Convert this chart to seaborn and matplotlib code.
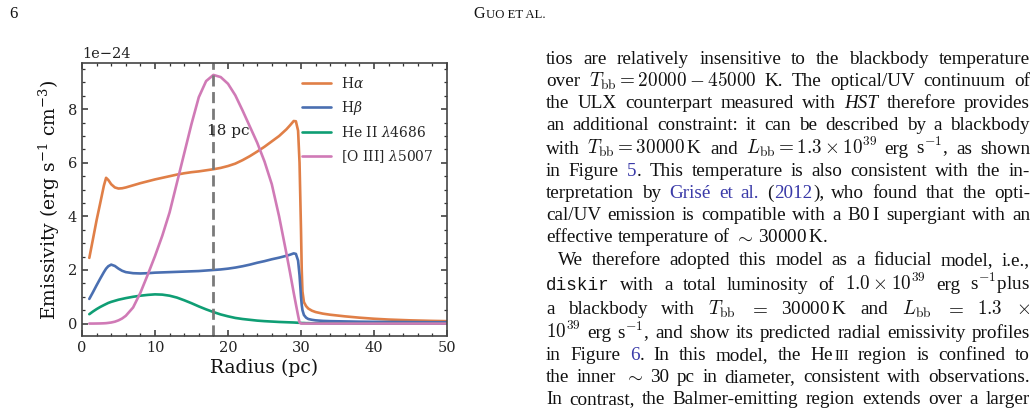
import re
import numpy as np
import matplotlib
matplotlib.use("Agg")
import matplotlib.pyplot as plt
import seaborn as sns
from matplotlib.ticker import MultipleLocator
from matplotlib.transforms import IdentityTransform

# ---------------- data ----------------
radius = [1, 1.5, 2, 2.5, 3, 3.3, 3.6, 4, 4.5, 5,
          5.5, 6, 7, 8, 9, 10, 11, 12, 13, 14,
          15, 16, 17, 18, 19, 20, 21, 22, 23, 24,
          25, 26, 27, 28, 28.5, 29, 29.3, 29.6, 29.8, 30,
          30.1, 30.2, 30.4, 30.7, 31, 31.5, 32, 33, 34, 36,
          38, 40, 42, 45, 48, 50]

h_alpha = [2.45, 3.15, 3.86, 4.5, 5.15, 5.44, 5.36, 5.2, 5.08, 5.04,
           5.05, 5.08, 5.16, 5.24, 5.31, 5.38, 5.44, 5.5, 5.56, 5.61,
           5.65, 5.68, 5.72, 5.76, 5.81, 5.88, 5.97, 6.1, 6.25, 6.42,
           6.6, 6.8, 7.0, 7.25, 7.4, 7.56, 7.55, 7.2, 6.0, 3.5,
           2.0, 1.2, 0.8, 0.65, 0.56, 0.48, 0.43, 0.37, 0.33, 0.27,
           0.22, 0.18, 0.15, 0.12, 0.1, 0.09]

h_beta = [0.92, 1.17, 1.43, 1.68, 1.92, 2.05, 2.14, 2.2, 2.15, 2.05,
          1.97, 1.92, 1.88, 1.87, 1.88, 1.9, 1.91, 1.92, 1.93, 1.94,
          1.95, 1.96, 1.98, 2.0, 2.02, 2.05, 2.09, 2.14, 2.2, 2.27,
          2.33, 2.4, 2.46, 2.53, 2.57, 2.62, 2.6, 2.35, 1.8, 1.0,
          0.7, 0.5, 0.32, 0.22, 0.17, 0.14, 0.12, 0.1, 0.09, 0.08,
          0.07, 0.065, 0.06, 0.055, 0.05, 0.05]

he_ii = [0.35, 0.45, 0.54, 0.62, 0.69, 0.73, 0.77, 0.81, 0.85, 0.89,
         0.92, 0.95, 1.0, 1.04, 1.07, 1.09, 1.08, 1.04, 0.97, 0.87,
         0.76, 0.64, 0.53, 0.43, 0.34, 0.27, 0.21, 0.17, 0.14, 0.11,
         0.09, 0.075, 0.06, 0.05, 0.045, 0.04, 0.035, 0.03, 0.03, 0.025,
         0.02, 0.02, 0.02, 0.015, 0.015, 0.01, 0.01, 0.01, 0.005, 0.005,
         0.0, 0.0, 0.0, 0.0, 0.0, 0.0]

o_iii = [0.0, 0.0, 0.002, 0.005, 0.01, 0.015, 0.025, 0.04, 0.07, 0.12,
         0.19, 0.29, 0.6, 1.15, 1.82, 2.52, 3.28, 4.15, 5.25, 6.35,
         7.45, 8.45, 9.05, 9.28, 9.2, 8.95, 8.52, 7.95, 7.35, 6.75,
         6.05, 5.2, 4.0, 2.62, 1.9, 1.15, 0.72, 0.3, 0.04, 0.0,
         0.0, 0.0, 0.0, 0.0, 0.0, 0.0, 0.0, 0.0, 0.0, 0.0,
         0.0, 0.0, 0.0, 0.0, 0.0, 0.0]

series_values = [h_alpha, h_beta, he_ii, o_iii]
series_labels = [r"H$\alpha$", r"H$\beta$", r"He II $\lambda$4686", r"[O III] $\lambda$5007"]
series_colors = ["#e07f47", "#4a6fb1", "#0f9e74", "#d07ab6"]
unit_scale = 1e-24
marker_radius = 18
marker_label = "18 pc"
x_ticks = [0, 10, 20, 30, 40, 50]
y_ticks = [0, 2, 4, 6, 8]
x_label = "Radius (pc)"
y_label = r"Emissivity (erg s$^{-1}$ cm$^{-3}$)"

# ---------------- style ----------------
sns.set_theme(style="ticks")
plt.rcParams["font.family"] = ["DejaVu Serif"]
plt.rcParams["mathtext.fontset"] = "dejavuserif"
plt.rcParams["axes.linewidth"] = 1.2

W, H = 1036, 409
fig = plt.figure(figsize=(W / 100, H / 100), dpi=100)
ax = fig.add_axes([82 / W, 1 - 336 / H, 365 / W, 273.5 / H])

for vals, lab, col in zip(series_values, series_labels, series_colors):
    sns.lineplot(x=radius, y=np.array(vals) * unit_scale, color=col, label=lab,
                 lw=1.9, ax=ax, sort=False, estimator=None)

ax.axvline(marker_radius, color="#7a7a7a", ls="--", lw=2.0, dashes=(4, 2))
ax.text(marker_radius - 0.9, 7.17 * unit_scale, marker_label, ha="left", va="center",
        fontsize=11, color="#222222")

ax.set_xlim(0, 50)
ax.set_xticks(x_ticks)
ax.set_yticks(np.array(y_ticks) * unit_scale)
ax.xaxis.set_minor_locator(MultipleLocator(2))
ax.yaxis.set_minor_locator(MultipleLocator(0.5 * unit_scale))
ax.tick_params(which="both", direction="in", top=True, right=True,
               colors="#333333", labelcolor="#222222", labelsize=10.5)
ax.tick_params(which="major", length=4.5, width=1.1)
ax.tick_params(which="minor", length=2.5, width=0.9)
for sp in ax.spines.values():
    sp.set_color("#444444")
ax.yaxis.get_offset_text().set_fontsize(10.5)
ax.set_xlabel(x_label, fontsize=13.5, color="#111111", labelpad=3)
ax.set_ylabel(y_label, fontsize=13.5, color="#111111", labelpad=4)

leg = ax.legend(loc="upper right", frameon=False, fontsize=10, labelspacing=0.58,
                handlelength=2.1, handletextpad=0.75, borderaxespad=0.55)

# ---------------- page text ----------------
renderer = fig.canvas.get_renderer()
BODY_FS = 13.8
LEFT, RIGHT = 546, 1030
BLUE = "#3a3aa8"
seg_re = re.compile(r"\{([ibms])\|([^}]*)\}")


def parse_word(word):
    segs, pos = [], 0
    for m in seg_re.finditer(word):
        if m.start() > pos:
            segs.append(("n", word[pos:m.start()]))
        segs.append((m.group(1), m.group(2)))
        pos = m.end()
    if pos < len(word):
        segs.append(("n", word[pos:]))
    return segs


def seg_kwargs(style, fs):
    kw = dict(family="Liberation Serif", color="#111111", fontsize=fs,
              math_fontfamily="cm")
    if style == "i":
        kw["style"] = "italic"
    elif style == "b":
        kw["color"] = BLUE
    elif style == "m":
        kw["family"] = "Liberation Mono"
        kw["fontsize"] = fs * 0.92
    elif style == "s":
        kw["fontsize"] = fs * 0.78
    return kw


def make_word(word, fs):
    arts = []
    for style, txt in parse_word(word):
        t = fig.text(0, 0, txt, transform=IdentityTransform(), va="baseline",
                     ha="left", **seg_kwargs(style, fs))
        w = t.get_window_extent(renderer).width
        arts.append((t, w))
    return arts


def draw_line(text, y_img, left, right, justify, fs=BODY_FS, gap_default=None):
    words = [make_word(w, fs) for w in text.split(" ")]
    widths = [sum(w for _, w in arts) for arts in words]
    if gap_default is None:
        gap_default = fs * 100 / 72 * 0.25
    if justify and len(words) > 1:
        gap = (right - left - sum(widths)) / (len(words) - 1)
    else:
        gap = gap_default
    x = left
    yd = H - y_img
    for arts, wtot in zip(words, widths):
        xx = x
        for t, w in arts:
            t.set_position((xx, yd))
            xx += w + 0.6
        x += wtot + gap


body = [
    (0, True, 64.5, "tios are relatively insensitive to the blackbody temperature"),
    (0, True, 86.5, r"over $T_\mathrm{bb}=20000-45000$ K. The optical/UV continuum of"),
    (0, True, 108.5, "the ULX counterpart measured with {i|HST} therefore provides"),
    (0, True, 130.5, "an additional constraint: it can be described by a blackbody"),
    (0, True, 153.5, r"with $T_\mathrm{bb}=30000\,$K and $L_\mathrm{bb}=1.3\times10^{39}$ erg s$^{-1}$, as shown"),
    (0, True, 176, "in Figure {b|5}. This temperature is also consistent with the in-"),
    (0, True, 198, "terpretation by {b|Grisé} {b|et} {b|al.} ({b|2012}), who found that the opti-"),
    (0, True, 220, r"cal/UV emission is compatible with a B0$\,$I supergiant with an"),
    (0, False, 242.5, r"effective temperature of $\sim$ 30000$\,$K."),
    (12, True, 265, "We therefore adopted this model as a fiducial model, i.e.,"),
    (0, True, 290, r"{m|diskir} with a total luminosity of $1.0\times10^{39}$ erg s$^{-1}$plus"),
    (0, True, 314.5, r"a blackbody with $T_\mathrm{bb}$ $=$ 30000$\,$K and $L_\mathrm{bb}$ $=$ $1.3$ $\times$"),
    (0, True, 338, r"$10^{39}$ erg s$^{-1}$, and show its predicted radial emissivity profiles"),
    (0, True, 360, r"in Figure {b|6}.  In this model, the He$\,${s|III} region is confined to"),
    (0, True, 382, r"the inner $\sim$ 30 pc in diameter, consistent with observations."),
    (0, True, 404, "In contrast, the Balmer-emitting region extends over a larger"),
]
for indent, just, y, txt in body:
    txt = re.sub(" +", " ", txt)
    draw_line(txt, y, LEFT + indent, RIGHT, just)

# header
fig.text(9, H - 18.5, "6", transform=IdentityTransform(), family="Liberation Serif",
         fontsize=12, color="#111111", va="baseline")
g = fig.text(473, H - 18.5, "G", transform=IdentityTransform(), family="Liberation Serif",
             fontsize=11.5, color="#111111", va="baseline")
gw = g.get_window_extent(renderer).width
fig.text(473 + gw + 1, H - 18.5, "UO ET AL.", transform=IdentityTransform(),
         family="Liberation Serif", fontsize=9.2, color="#111111", va="baseline")

fig.savefig("out.png", dpi=100)
